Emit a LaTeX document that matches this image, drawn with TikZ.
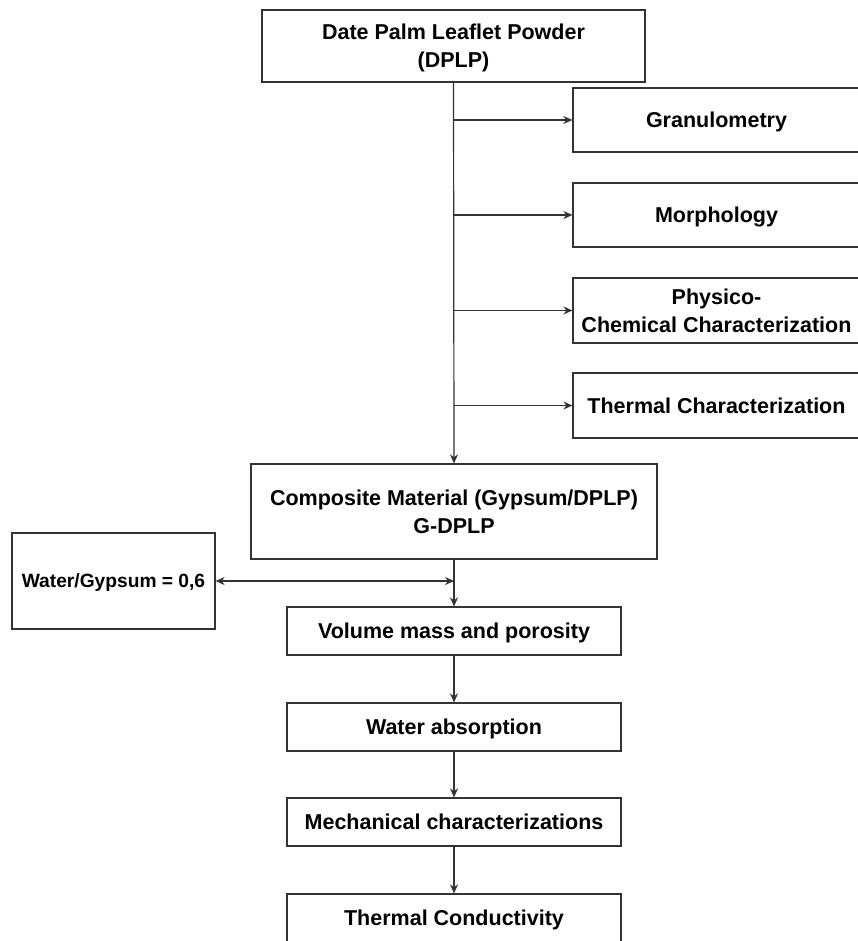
\documentclass[tikz,border=0pt]{standalone}
\usepackage{fontspec}
\setmainfont{Liberation Sans}
\usetikzlibrary{arrows.meta}
\definecolor{ln}{HTML}{333333}
\tikzset{
  box/.style={draw=ln, line width=1.2pt, fill=white, inner sep=0pt, align=center, text depth=0pt,
    font=\fontsize{21.5}{28}\selectfont\bfseries},
  conn/.style={draw=ln, line width=1.2pt, -{Stealth[length=9pt,width=8pt]}},
  dconn/.style={draw=ln, line width=1.2pt, {Stealth[length=9pt,width=8pt]}-{Stealth[length=9pt,width=8pt]}}
}
\begin{document}
\begin{tikzpicture}[x=1pt,y=-1pt]
\clip (0,0) rectangle (858,941);
\useasboundingbox (0,0) rectangle (858,941);
\fill[white] (0,0) rectangle (858,941);

\node[box, minimum width=383pt, minimum height=72pt] (dplp) at (453.5,46) {Date Palm Leaflet Powder\\(DPLP)};

\node[box, minimum width=287pt, minimum height=64pt] (gran) at (716.5,120) {Granulometry};
\node[box, minimum width=287pt, minimum height=64pt] (morph) at (716.5,215) {Morphology};
\node[box, minimum width=287pt, minimum height=65pt] (phys) at (716.5,310.5) {Physico-\\Chemical Characterization};
\node[box, minimum width=287pt, minimum height=65pt] (therm) at (716.5,405.5) {Thermal Characterization};

\node[box, minimum width=406pt, minimum height=95pt] (comp) at (454,511.5) {Composite Material (Gypsum/DPLP)\\G-DPLP};
\node[box, minimum width=203pt, minimum height=96pt, font=\fontsize{19.2}{24}\selectfont\bfseries] (water) at (113.5,581) {Water/Gypsum = 0,6};

\node[box, minimum width=334pt, minimum height=48pt] (vol) at (454,631) {Volume mass and porosity};
\node[box, minimum width=334pt, minimum height=48pt] (wabs) at (454,727) {Water absorption};
\node[box, minimum width=334pt, minimum height=48pt] (mech) at (454,822) {Mechanical characterizations};
\node[box, minimum width=334pt, minimum height=48pt] (tc) at (454,918) {Thermal Conductivity};

\draw[conn] (dplp.south) -- (comp.north);
\coordinate (b1) at (454,120);
\coordinate (b2) at (454,215);
\coordinate (b3) at (454,310.5);
\coordinate (b4) at (454,405.5);
\draw[conn] (b1) -- (gran.west);
\draw[conn] (b2) -- (morph.west);
\draw[conn] (b3) -- (phys.west);
\draw[conn] (b4) -- (therm.west);

\draw[conn] (comp.south) -- (vol.north);
\coordinate (wj) at (454,581);
\draw[dconn] (water.east) -- (wj);
\draw[conn] (vol.south) -- (wabs.north);
\draw[conn] (wabs.south) -- (mech.north);
\draw[conn] (mech.south) -- (tc.north);
\end{tikzpicture}
\end{document}
